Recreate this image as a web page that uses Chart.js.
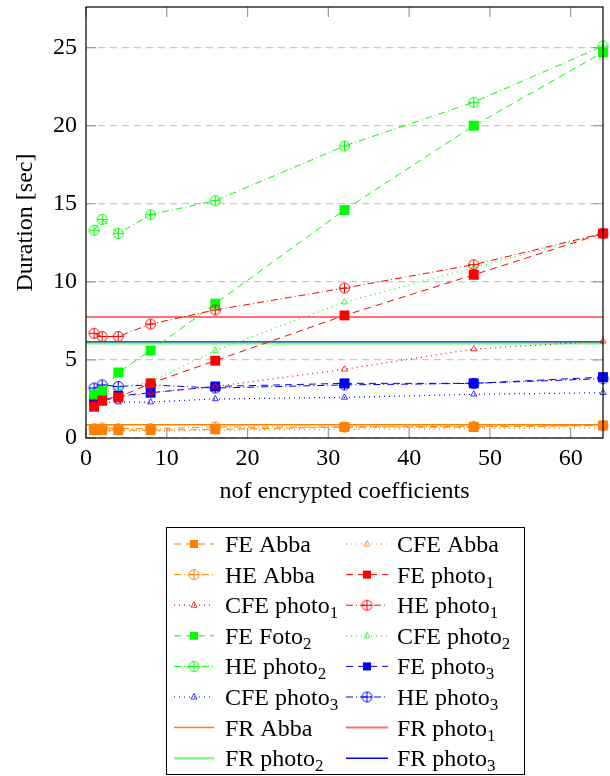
<!DOCTYPE html>
<html>
<head>
<meta charset="utf-8">
<script src="https://cdn.jsdelivr.net/npm/chart.js@4.4.1/dist/chart.umd.min.js"></script>
<style>
    body { margin: 0; background: #fff; }
    #durationChart { display: block; }
</style>
</head>
<body>
<canvas id="durationChart" width="610" height="776"></canvas>
<script>
// number of encrypted coefficients
const xValues = [1, 2, 4, 8, 16, 32, 48, 64];

// durations in seconds
const feAbba = [0.5, 0.5, 0.5, 0.5, 0.55, 0.7, 0.7, 0.8];
const cfeAbba = [0.4, 0.4, 0.45, 0.45, 0.5, 0.55, 0.6, 0.65];
const heAbba = [0.6, 0.65, 0.6, 0.6, 0.7, 0.7, 0.75, 0.8];
const fePhoto1 = [2.0, 2.4, 2.6, 3.5, 4.95, 7.85, 10.45, 13.1];
const cfePhoto1 = [2.3, 2.4, 2.6, 2.9, 3.3, 4.4, 5.7, 6.2];
const hePhoto1 = [6.7, 6.5, 6.5, 7.3, 8.2, 9.6, 11.1, 13.1];
const fePhoto2 = [2.8, 3.0, 4.2, 5.6, 8.6, 14.6, 20.0, 24.7];
const cfePhoto2 = [2.6, 2.8, 3.2, 3.6, 5.6, 8.7, 10.9, 13.1];
const hePhoto2 = [13.3, 14.0, 13.1, 14.3, 15.2, 18.7, 21.5, 25.1];
const fePhoto3 = [2.4, 2.4, 2.7, 2.9, 3.3, 3.5, 3.5, 3.9];
const cfePhoto3 = [2.3, 2.3, 2.3, 2.3, 2.5, 2.6, 2.8, 2.9];
const hePhoto3 = [3.2, 3.4, 3.3, 3.4, 3.2, 3.4, 3.5, 3.8];

// FR reference durations (constant lines)
const frAbba = 0.85;
const frPhoto1 = 7.75;
const frPhoto2 = 6.05;
const frPhoto3 = 6.15;

const xRange = [0, 64];
const yRange = [0, 27.6];

const ORANGE = '#ff8000';
const RED = '#ff0000';
const GREEN = '#00ff00';
const BLUE = '#0000ff';
const FONT = '"Liberation Serif", "DejaVu Serif", serif';

function oplus(color) {
    const c = document.createElement('canvas');
    c.width = 13;
    c.height = 13;
    const g = c.getContext('2d');
    g.strokeStyle = color;
    g.lineWidth = 1;
    g.beginPath();
    g.arc(6.5, 6.5, 5, 0, Math.PI * 2);
    g.moveTo(6.5, 1.5);
    g.lineTo(6.5, 11.5);
    g.moveTo(1.5, 6.5);
    g.lineTo(11.5, 6.5);
    g.stroke();
    return c;
}

function points(values) {
    return xValues.map((x, i) => ({x: x, y: values[i]}));
}

function fe(label, values, color) {
    return {
        label: label, data: points(values), kind: 'fe',
        borderColor: color, backgroundColor: color, borderWidth: 1, borderDash: [7, 5],
        pointStyle: 'rect', pointRadius: 7, pointBackgroundColor: color, pointBorderWidth: 0,
        clip: false
    };
}

function cfe(label, values, color) {
    return {
        label: label, data: points(values), kind: 'cfe',
        borderColor: color, backgroundColor: color, borderWidth: 1.2, borderDash: [1, 4],
        pointStyle: 'triangle', pointRadius: 3.5, pointBorderColor: color,
        pointBackgroundColor: 'rgba(0,0,0,0)', pointBorderWidth: 0.8,
        clip: false
    };
}

function he(label, values, color) {
    return {
        label: label, data: points(values), kind: 'he',
        borderColor: color, backgroundColor: color, borderWidth: 1, borderDash: [7, 3, 1, 3],
        pointStyle: oplus(color), pointRadius: 6,
        clip: false
    };
}

function fr(label, value, color, width) {
    return {
        label: label, data: xRange.map(x => ({x: x, y: value})), kind: 'fr',
        borderColor: color, backgroundColor: color, borderWidth: width,
        pointRadius: 0
    };
}

// legend drawn inside the canvas, two columns, with subscripts
const legendBox = {
    id: 'legendBox',
    afterDraw(chart) {
        const ctx = chart.ctx;
        ctx.save();
        ctx.strokeStyle = '#000';
        ctx.lineWidth = 1;
        ctx.strokeRect(166.5, 527.5, 358, 247);

        chart.data.datasets.forEach((ds, i) => {
            const col = i % 2;
            const row = Math.floor(i / 2);
            const y = 544 + row * 30.6;
            const x0 = col === 0 ? 174 : 346;
            const x1 = col === 0 ? 214 : 388;
            const tx = col === 0 ? 225 : 397;
            const cx = (x0 + x1) / 2;

            ctx.strokeStyle = ds.borderColor;
            ctx.lineWidth = ds.borderWidth;
            ctx.setLineDash(ds.borderDash || []);
            ctx.beginPath();
            ctx.moveTo(x0, y);
            ctx.lineTo(x1, y);
            ctx.stroke();
            ctx.setLineDash([]);

            if (ds.kind === 'fe') {
                ctx.fillStyle = ds.borderColor;
                ctx.fillRect(cx - 4, y - 4, 8, 8);
            } else if (ds.kind === 'he') {
                ctx.drawImage(ds.pointStyle, cx - 6.5, y - 6.5);
            } else if (ds.kind === 'cfe') {
                ctx.lineWidth = 0.8;
                ctx.beginPath();
                ctx.moveTo(cx, y - 3.5);
                ctx.lineTo(cx + 3, y + 2);
                ctx.lineTo(cx - 3, y + 2);
                ctx.closePath();
                ctx.stroke();
            }

            const parts = ds.label.split('_');
            ctx.fillStyle = '#000';
            ctx.textBaseline = 'alphabetic';
            ctx.textAlign = 'left';
            ctx.font = '24px ' + FONT;
            ctx.fillText(parts[0], tx, y + 8);
            if (parts[1]) {
                const w = ctx.measureText(parts[0]).width;
                ctx.font = '17px ' + FONT;
                ctx.fillText(parts[1], tx + w, y + 13);
            }
        });
        ctx.restore();
    }
};

// frame and inward tick marks like the original plot
const frameTicks = {
    id: 'frameTicks',
    afterDatasetsDraw(chart) {
        const {ctx, chartArea: a, scales: {x, y}} = chart;
        ctx.save();
        ctx.strokeStyle = '#9a9a9a';
        ctx.lineWidth = 1.2;
        ctx.beginPath();
        x.ticks.forEach(t => {
            const px = x.getPixelForValue(t.value);
            ctx.moveTo(px, a.bottom);
            ctx.lineTo(px, a.bottom - 10);
            ctx.moveTo(px, a.top);
            ctx.lineTo(px, a.top + 10);
        });
        y.ticks.forEach(t => {
            const py = y.getPixelForValue(t.value);
            ctx.moveTo(a.left, py);
            ctx.lineTo(a.left + 10, py);
            ctx.moveTo(a.right, py);
            ctx.lineTo(a.right - 10, py);
        });
        ctx.stroke();
        ctx.strokeStyle = '#000';
        ctx.lineWidth = 1.2;
        ctx.strokeRect(a.left, a.top, a.right - a.left, a.bottom - a.top);
        ctx.restore();
    }
};

new Chart(document.querySelector('#durationChart'), {
    type: 'line',
    data: {
        datasets: [
            fe('FE Abba', feAbba, ORANGE),
            cfe('CFE Abba', cfeAbba, ORANGE),
            he('HE Abba', heAbba, ORANGE),
            fe('FE photo_1', fePhoto1, RED),
            cfe('CFE photo_1', cfePhoto1, RED),
            he('HE photo_1', hePhoto1, RED),
            fe('FE Foto_2', fePhoto2, GREEN),
            cfe('CFE photo_2', cfePhoto2, GREEN),
            he('HE photo_2', hePhoto2, GREEN),
            fe('FE photo_3', fePhoto3, BLUE),
            cfe('CFE photo_3', cfePhoto3, BLUE),
            he('HE photo_3', hePhoto3, BLUE),
            fr('FR Abba', frAbba, ORANGE, 1.5),
            fr('FR photo_1', frPhoto1, '#ff7070', 2),
            fr('FR photo_2', frPhoto2, '#70ff70', 2),
            fr('FR photo_3', frPhoto3, BLUE, 1.5)
        ]
    },
    options: {
        responsive: false,
        devicePixelRatio: 1,
        animation: false,
        layout: {
            padding: {left: 0, right: 6, top: 7, bottom: 268}
        },
        plugins: {
            legend: {display: false},
            tooltip: {enabled: false}
        },
        elements: {
            line: {tension: 0}
        },
        scales: {
            x: {
                type: 'linear',
                min: xRange[0],
                max: xRange[1],
                grid: {display: false, drawTicks: false},
                border: {display: false},
                ticks: {
                    stepSize: 10,
                    includeBounds: false,
                    padding: 6,
                    color: '#000',
                    font: {family: FONT, size: 24}
                },
                title: {
                    display: true,
                    text: 'nof encrypted coefficients',
                    color: '#000',
                    padding: {top: 0, bottom: 2},
                    font: {family: FONT, size: 24}
                },
                afterFit: scale => {
                    scale.height = 70;
                    scale.paddingLeft = 0;
                    scale.paddingRight = 0;
                }
            },
            y: {
                type: 'linear',
                min: yRange[0],
                max: yRange[1],
                grid: {color: '#c8c8c8', lineWidth: 1.2, drawTicks: false},
                border: {display: false, dash: [7, 5]},
                ticks: {
                    stepSize: 5,
                    includeBounds: false,
                    padding: 9,
                    color: '#000',
                    font: {family: FONT, size: 24}
                },
                title: {
                    display: true,
                    text: 'Duration [sec]',
                    color: '#000',
                    padding: {top: 11, bottom: 0},
                    font: {family: FONT, size: 24}
                },
                afterFit: scale => {
                    scale.width = 86;
                    scale.paddingTop = 0;
                    scale.paddingBottom = 0;
                }
            }
        }
    },
    plugins: [frameTicks, legendBox]
});
</script>
</body>
</html>
